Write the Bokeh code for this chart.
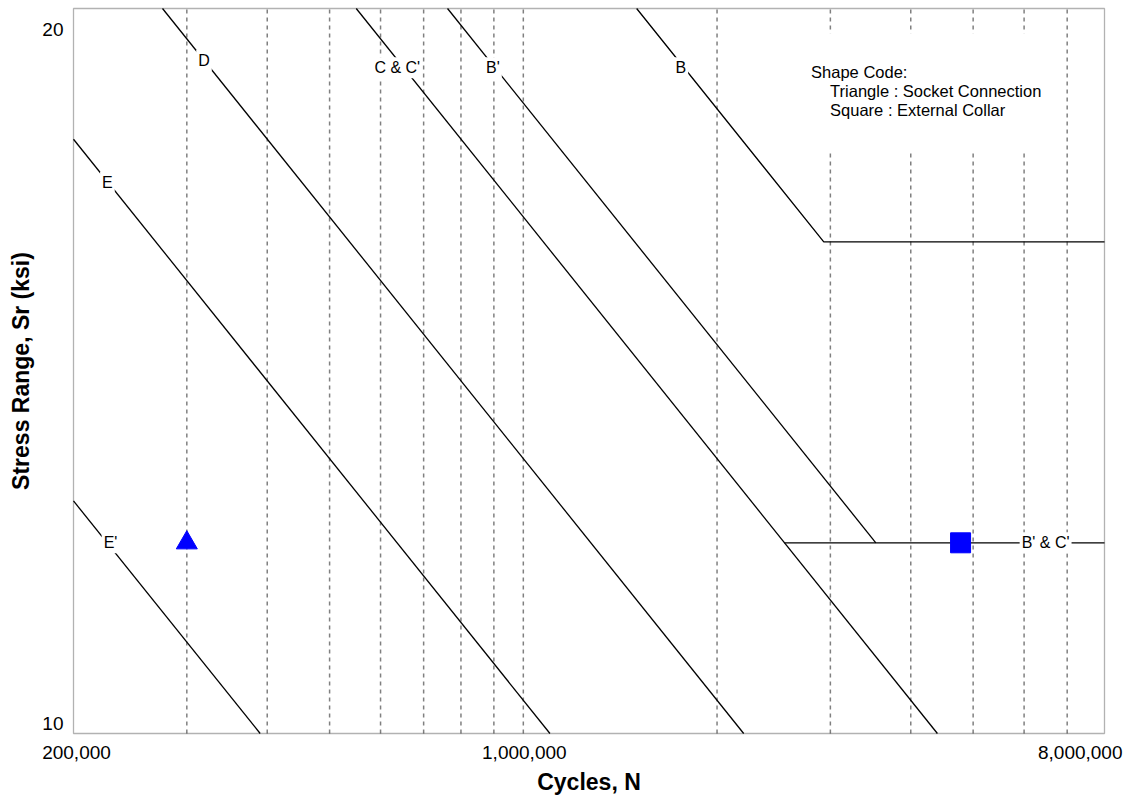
import math

from bokeh.plotting import figure
from bokeh.models import Range1d, Label, BoxAnnotation, Grid
from bokeh.embed import file_html
from bokeh.resources import INLINE

# ---- S-N curve vertices: cycles N and stress range Sr (ksi) ----
b_n = [1.5e6, 2.93e6, 8e6]
b_s = [20, 16, 16]
bp_n = [7.625e5, 3.53e6]
bp_s = [20, 12]
c_n = [5.5e5, 4.4e6]
c_s = [20, 10]
shelf_n = [2.546e6, 8e6]          # shared B' & C' threshold
shelf_s = [12, 12]
d_n = [2.75e5, 2.2e6]
d_s = [20, 10]
e_n = [2e5, 1.1e6]
e_s = [17.65, 10]
ep_n = [2e5, 3.9e5]
ep_s = [12.49, 10]

# ---- curve labels ----
curve_text = ["B", "B'", "C & C'", "D", "E", "E'", "B' & C'"]
curve_n = [1.757e6, 8.97e5, 6.37e5, 3.19e5, 2.258e5, 2.283e5, 6.48e6]
curve_s = [18.9, 18.9, 18.9, 19.03, 16.94, 12.0, 12.0]

# ---- test points ----
socket_n = [3e5]
socket_s = [12]
collar_n = [4.78e6]
collar_s = [12]

# ---- axes ----
x_tick_values = [2e5, 1e6, 8e6]
x_tick_labels = ["200,000", "1,000,000", "8,000,000"]
y_tick_values = [10, 20]
y_tick_labels = ["10", "20"]
grid_n = [3e5, 4e5, 5e5, 6e5, 7e5, 8e5, 9e5, 1e6, 2e6, 3e6, 4e6, 5e6, 6e6, 7e6]
x_title = "Cycles, N"
y_title = "Stress Range, Sr (ksi)"

legend_lines = ["Shape Code:", "Triangle : Socket Connection", "Square : External Collar"]

FONT = "Liberation Sans"

# Canvas size and the pixel box the log-log chart area occupies inside it.
W, H = 1130, 798
AREA_L, AREA_R, AREA_T, AREA_B = 73, 1104, 8, 733

# Extend the ranges so that the chart area lands on that pixel box while the
# frame spans the whole canvas (margin text then stays inside the frame).
lx0, lx1 = math.log10(x_tick_values[0]), math.log10(x_tick_values[-1])
kx = (AREA_R - AREA_L) / (lx1 - lx0)
ly0, ly1 = math.log10(y_tick_values[0]), math.log10(y_tick_values[-1])
ky = (AREA_B - AREA_T) / (ly1 - ly0)
x_range = Range1d(10 ** (lx0 - AREA_L / kx), 10 ** (lx1 + (W - AREA_R) / kx))
y_range = Range1d(10 ** (ly0 - (H - AREA_B) / ky), 10 ** (ly1 + AREA_T / ky))

p = figure(width=W, height=H,
           x_axis_type="log", y_axis_type="log",
           x_axis_location=None, y_axis_location=None,
           x_range=x_range, y_range=y_range,
           output_backend="svg", toolbar_location=None, min_border=0)
p.background_fill_color = "white"
p.border_fill_color = "white"
p.outline_line_color = None
# no automatic grids: the vertical grid below is limited to the chart area
p.center = [r for r in p.center if not isinstance(r, Grid)]

# dashed vertical grid across the chart area
p.segment(x0=grid_n, y0=[y_tick_values[0]] * len(grid_n),
          x1=grid_n, y1=[y_tick_values[-1]] * len(grid_n),
          line_color="#808080", line_dash="4 4", line_width=1.5)

# S-N curves
for xs, ys in [(b_n, b_s), (bp_n, bp_s), (c_n, c_s), (shelf_n, shelf_s),
               (d_n, d_s), (e_n, e_s), (ep_n, ep_s)]:
    p.line(xs, ys, line_color="black", line_width=1.3)

# test details
p.scatter(socket_n, socket_s, marker="triangle", size=21, color="#0000FF")
p.scatter(collar_n, collar_s, marker="square", size=20, color="#0000FF")

# curve labels, each on a white patch that breaks the line beneath it
for t, n, s in zip(curve_text, curve_n, curve_s):
    p.add_layout(Label(x=n, y=s, text=t, text_align="center", text_baseline="middle",
                       text_font=FONT, text_font_size="16px", text_color="black",
                       background_fill_color="white", padding=2))

# legend block
p.add_layout(BoxAnnotation(left=2.69e6, right=6.57e6, top=19.53, bottom=17.43,
                           fill_color="white", fill_alpha=1.0, line_color=None))
for i, t in enumerate(legend_lines):
    p.add_layout(Label(x=2.8e6, y=18.83, text=t, x_offset=0 if i == 0 else 19,
                       y_offset=-19 * i, text_align="left", text_baseline="middle",
                       text_font=FONT, text_font_size="16.5px", text_color="black"))

# chart-area border
p.add_layout(BoxAnnotation(left=x_tick_values[0], right=x_tick_values[-1],
                           bottom=y_tick_values[0], top=y_tick_values[-1],
                           fill_alpha=0, line_color="black", line_width=1.3))

# tick labels
x_offsets = [3, 1, 18]
x_aligns = ["center", "center", "right"]
for v, t, dx, al in zip(x_tick_values, x_tick_labels, x_offsets, x_aligns):
    p.add_layout(Label(x=v, y=y_tick_values[0], text=t, x_offset=dx, y_offset=-19,
                       text_align=al, text_baseline="middle",
                       text_font=FONT, text_font_size="19px", text_color="black"))
y_offsets = [10, -21]
for v, t, dy in zip(y_tick_values, y_tick_labels, y_offsets):
    p.add_layout(Label(x=x_tick_values[0], y=v, text=t, x_offset=-10, y_offset=dy,
                       text_align="right", text_baseline="middle",
                       text_font=FONT, text_font_size="19px", text_color="black"))

# axis titles
p.add_layout(Label(x=10 ** ((lx0 + lx1) / 2), y=y_tick_values[0], text=x_title,
                   y_offset=-48, text_align="center", text_baseline="middle",
                   text_font=FONT, text_font_size="23px", text_font_style="bold",
                   text_color="black"))
p.add_layout(Label(x=x_tick_values[0], y=10 ** ((ly0 + ly1) / 2), text=y_title,
                   x_offset=-53, angle=math.pi / 2, text_align="center",
                   text_baseline="middle", text_font=FONT, text_font_size="23px",
                   text_font_style="bold", text_color="black"))

open("out.html", "w").write(file_html(p, INLINE))
